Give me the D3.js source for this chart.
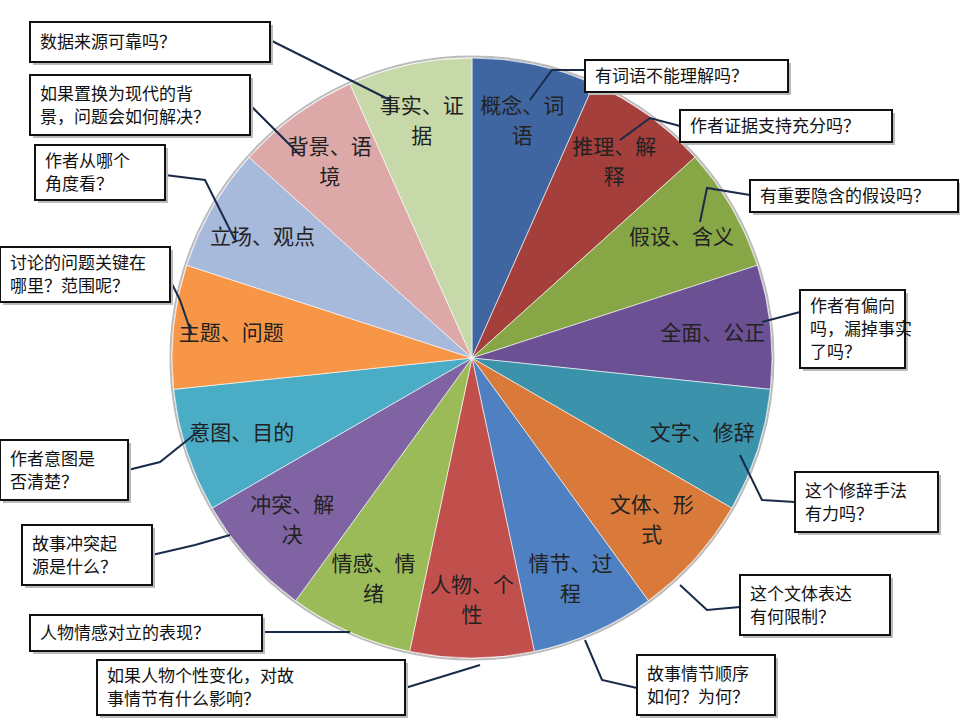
<!DOCTYPE html>
<html><head><meta charset="utf-8">
<script src="https://cdn.jsdelivr.net/npm/d3@7"></script>
<style>body{margin:0;background:#fff}</style>
</head><body>
<svg id="c" width="960" height="720"></svg>
<script>
// slices clockwise from 12 o'clock
const labels = [["概念、词","语"],["推理、解","释"],["假设、含义"],["全面、公正"],["文字、修辞"],
  ["文体、形","式"],["情节、过","程"],["人物、个","性"],["情感、情","绪"],["冲突、解","决"],
  ["意图、目的"],["主题、问题"],["立场、观点"],["背景、语","境"],["事实、证","据"]];
const colors = ["#3f66a1","#a43f3c","#87a747","#6b5094","#3a93ab","#d97a3a","#4f80c1","#c1504d",
  "#9bbb59","#7f63a2","#4bacc6","#f79646","#a8badc","#dca9a8","#c7d9a9"];
const values = labels.map(() => 1);

const questions = [["数据来源可靠吗？"],["如果置换为现代的背","景，问题会如何解决？"],["作者从哪个","角度看？"],
  ["讨论的问题关键在","哪里？范围呢？"],["作者意图是","否清楚？"],["故事冲突起","源是什么？"],["人物情感对立的表现？"],
  ["如果人物个性变化，对故","事情节有什么影响？"],["故事情节顺序","如何？为何？"],["这个文体表达","有何限制？"],
  ["这个修辞手法","有力吗？"],["作者有偏向","吗，漏掉事实","了吗？"],["有重要隐含的假设吗？"],
  ["作者证据支持充分吗？"],["有词语不能理解吗？"]];
// callout layout: box [x,y,w,h], leader polyline
const layout = [
  {b:[30,22,240,40],l:[[270,40],[390,100]]},
  {b:[30,75,220,60],l:[[250,105],[300,155]]},
  {b:[35,145,130,55],l:[[165,175],[205,180],[235,240]]},
  {b:[0,247,170,55],l:[[170,280],[180,300],[192,335]]},
  {b:[0,440,128,60],l:[[128,470],[160,462],[200,430]]},
  {b:[22,525,130,60],l:[[152,555],[195,545],[230,535]]},
  {b:[30,615,232,36],l:[[262,632],[350,632]]},
  {b:[97,660,308,55],l:[[405,688],[480,665]]},
  {b:[637,655,138,60],l:[[637,688],[602,680],[585,640]]},
  {b:[740,575,150,60],l:[[740,607],[707,610],[680,585]]},
  {b:[795,472,143,60],l:[[795,502],[762,500],[740,455]]},
  {b:[800,290,105,78],l:[[800,312],[762,322]]},
  {b:[750,180,208,32],l:[[750,195],[707,188],[700,222]]},
  {b:[680,110,212,32],l:[[680,126],[650,118],[620,140]]},
  {b:[585,60,203,32],l:[[585,70],[552,70],[530,100]]}
];

const svg = d3.select("#c");
const cx = 472, cy = 358, r = 300;
const font = "'Noto Sans CJK SC', sans-serif";

const pie = d3.pie().sort(null).value(d => d)(values);
const arc = d3.arc().innerRadius(0).outerRadius(r);
const g = svg.append("g").attr("transform", `translate(${cx},${cy})`);

g.append("circle").attr("r", r + 1.5).attr("fill", "none").attr("stroke", "#bbb").attr("stroke-width", 2);
g.selectAll("path").data(pie).join("path")
  .attr("d", arc).attr("fill", (d, i) => colors[i])
  .attr("stroke", "#fff").attr("stroke-width", 0.6);

const labelArc = d3.arc().innerRadius(242).outerRadius(242);
g.selectAll("text.lab").data(pie).join("text")
  .attr("class", "lab")
  .attr("transform", d => `translate(${labelArc.centroid(d)})`)
  .attr("text-anchor", "middle")
  .attr("font-family", font).attr("font-size", 21).attr("fill", "#222")
  .each(function (d, i) {
    const lines = labels[i];
    const t = d3.select(this);
    lines.forEach((s, k) => t.append("tspan").attr("x", 0)
      .attr("y", (k - (lines.length - 1) / 2) * 30 + 7).text(s));
  });

const line = d3.line();
layout.forEach((o, i) => {
  svg.append("path").attr("d", line(o.l)).attr("fill", "none")
    .attr("stroke", "#1a2a4a").attr("stroke-width", 2);
});
layout.forEach((o, i) => {
  const [x, y, w, h] = o.b;
  svg.append("rect").attr("x", x + 3).attr("y", y + 3).attr("width", w).attr("height", h).attr("fill", "#bbb");
  svg.append("rect").attr("x", x).attr("y", y).attr("width", w).attr("height", h)
    .attr("fill", "#fff").attr("stroke", "#111").attr("stroke-width", 2);
  const lines = questions[i];
  const t = svg.append("text").attr("font-family", font).attr("font-size", 17).attr("fill", "#111");
  lines.forEach((s, k) => t.append("tspan").attr("x", x + 10)
    .attr("y", y + h / 2 + (k - (lines.length - 1) / 2) * 23 + 6).text(s));
});
</script>
</body></html>
